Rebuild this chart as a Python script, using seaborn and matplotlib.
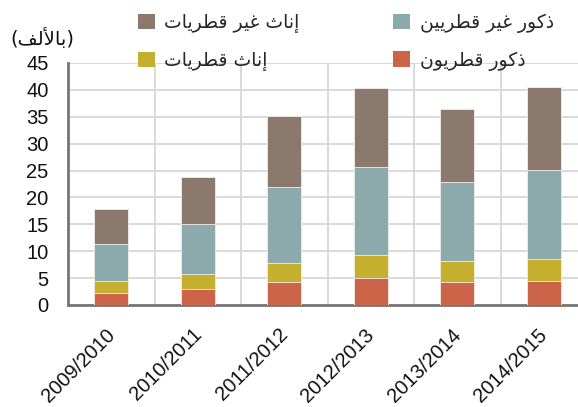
import matplotlib
matplotlib.use("Agg")
import matplotlib.pyplot as plt
import matplotlib.transforms as mtransforms
import seaborn as sns
import pandas as pd
import numpy as np
from matplotlib.patches import Patch

years = ["2009/2010", "2010/2011", "2011/2012", "2012/2013", "2013/2014", "2014/2015"]
qatari_males = [2.3, 3.0, 4.2, 5.0, 4.3, 4.5]
qatari_females = [2.1, 2.7, 3.6, 4.3, 3.9, 4.1]
nonqatari_males = [7.0, 9.3, 14.1, 16.4, 14.6, 16.5]
nonqatari_females = [6.5, 8.8, 13.2, 14.6, 13.6, 15.4]

series_names = ["ذكور قطريون", "إناث قطريات", "ذكور غير قطريين", "إناث غير قطريات"]
series_colors = ["#CB6449", "#C5AF2E", "#8CAAAC", "#8B796D"]
unit_label = "(بالألف)"
yticks = [0, 5, 10, 15, 20, 25, 30, 35, 40, 45]

# --- minimal Arabic shaping (presentation forms, visual order) ---
FORMS = {
    'ا': (0xFE8D, 0xFE8E, None, None), 'أ': (0xFE83, 0xFE84, None, None),
    'إ': (0xFE87, 0xFE88, None, None), 'ب': (0xFE8F, 0xFE90, 0xFE91, 0xFE92),
    'ت': (0xFE95, 0xFE96, 0xFE97, 0xFE98), 'ث': (0xFE99, 0xFE9A, 0xFE9B, 0xFE9C),
    'ذ': (0xFEAB, 0xFEAC, None, None), 'ر': (0xFEAD, 0xFEAE, None, None),
    'ط': (0xFEC1, 0xFEC2, 0xFEC3, 0xFEC4), 'غ': (0xFECD, 0xFECE, 0xFECF, 0xFED0),
    'ف': (0xFED1, 0xFED2, 0xFED3, 0xFED4), 'ق': (0xFED5, 0xFED6, 0xFED7, 0xFED8),
    'ك': (0xFED9, 0xFEDA, 0xFEDB, 0xFEDC), 'ل': (0xFEDD, 0xFEDE, 0xFEDF, 0xFEE0),
    'ن': (0xFEE5, 0xFEE6, 0xFEE7, 0xFEE8), 'و': (0xFEED, 0xFEEE, None, None),
    'ي': (0xFEF1, 0xFEF2, 0xFEF3, 0xFEF4),
}
LAMALEF = {'ا': (0xFEFB, 0xFEFC), 'أ': (0xFEF7, 0xFEF8), 'إ': (0xFEF9, 0xFEFA)}
MIRROR = {'(': ')', ')': '('}


def shape(s):
    ch = list(s)
    n = len(ch)
    out = []
    i = 0

    def dual(c):
        return c in FORMS and FORMS[c][2] is not None

    while i < n:
        c = ch[i]
        prev = ch[i - 1] if i > 0 else None
        if c not in FORMS:
            out.append(MIRROR.get(c, c))
            i += 1
            continue
        if c == 'ل' and i + 1 < n and ch[i + 1] in LAMALEF:
            lig = LAMALEF[ch[i + 1]]
            out.append(chr(lig[1] if (prev is not None and dual(prev)) else lig[0]))
            i += 2
            continue
        nxt = ch[i + 1] if i + 1 < n else None
        cp = prev is not None and dual(prev)
        cn = nxt is not None and nxt in FORMS and FORMS[c][2] is not None
        iso, fin, ini, med = FORMS[c]
        g = med if (cp and cn) else fin if cp else ini if cn else iso
        out.append(chr(g))
        i += 1
    return ''.join(reversed(out))


sns.set_theme(style="white")
plt.rcParams['font.family'] = ['Liberation Sans', 'DejaVu Sans']

fig = plt.figure(figsize=(5.78, 4.07), dpi=100)
ax = fig.add_axes([68 / 578, 1 - 305 / 407, 519 / 578, 242 / 407])

df = pd.DataFrame({
    "year": years,
    "s1": qatari_males,
    "s2": qatari_females,
    "s3": nonqatari_males,
    "s4": nonqatari_females,
})
cols = ["s1", "s2", "s3", "s4"]
cum = df[cols].cumsum(axis=1)
for k in range(3, -1, -1):
    d = pd.DataFrame({"year": years, "v": cum[cols[k]]})
    sns.barplot(data=d, x="year", y="v", color=series_colors[k], width=0.39,
                edgecolor="#f4eeea", linewidth=0.6, saturation=1, ax=ax, zorder=3)

ax.set_xlim(-0.5, 5.5)
ax.set_ylim(0, 45)
ax.set_yticks(yticks)
ax.set_yticklabels([str(t) for t in yticks], fontsize=14.5)
ax.set_xticks(range(len(years)))
ax.set_xticklabels([])
# rotated category labels, slightly shifted left like the reference
trans = mtransforms.blended_transform_factory(ax.transData, ax.transAxes) + \
    mtransforms.ScaledTranslation(-6 / 100, -20 / 100, fig.dpi_scale_trans)
for i, yr in enumerate(years):
    ax.text(i, 0, yr, transform=trans, fontsize=14.5, rotation=45,
            ha='right', va='top', rotation_mode='anchor', color="#111111",
            clip_on=False)
ax.set_xticks(np.arange(0.5, 5.6, 1), minor=True)
ax.set_xlabel("")
ax.set_ylabel("")
ax.grid(False)
ax.yaxis.grid(True, color="#D9D9D9", linewidth=1.4, zorder=0)
ax.xaxis.grid(True, which='minor', color="#D9D9D9", linewidth=1.4, zorder=0)
ax.set_axisbelow(True)
ax.tick_params(axis='x', which='both', length=0)
ax.tick_params(axis='y', length=0, pad=14, colors="#111111")
for side in ["top", "right"]:
    ax.spines[side].set_visible(False)
for side in ["left", "bottom"]:
    ax.spines[side].set_color("#767676")
    ax.spines[side].set_linewidth(2)

fig.text(10 / 578, 1 - 38 / 407, shape(unit_label), fontsize=14,
         family=['DejaVu Sans'], ha='left', va='center', color="#111111")

order = [3, 1, 2, 0]
handles = [Patch(facecolor=series_colors[k], edgecolor='none') for k in order]
labels = [shape(series_names[k]) for k in order]
leg = fig.legend(handles, labels, ncol=2, loc='upper left',
                 bbox_to_anchor=(121 / 578, 1 + 4 / 407), frameon=False,
                 prop={'family': ['DejaVu Sans'], 'size': 13.5},
                 handlelength=0.9, handleheight=0.9, handletextpad=0.5,
                 columnspacing=5.0, labelspacing=0.95)

fig.savefig("out.png", dpi=100)
